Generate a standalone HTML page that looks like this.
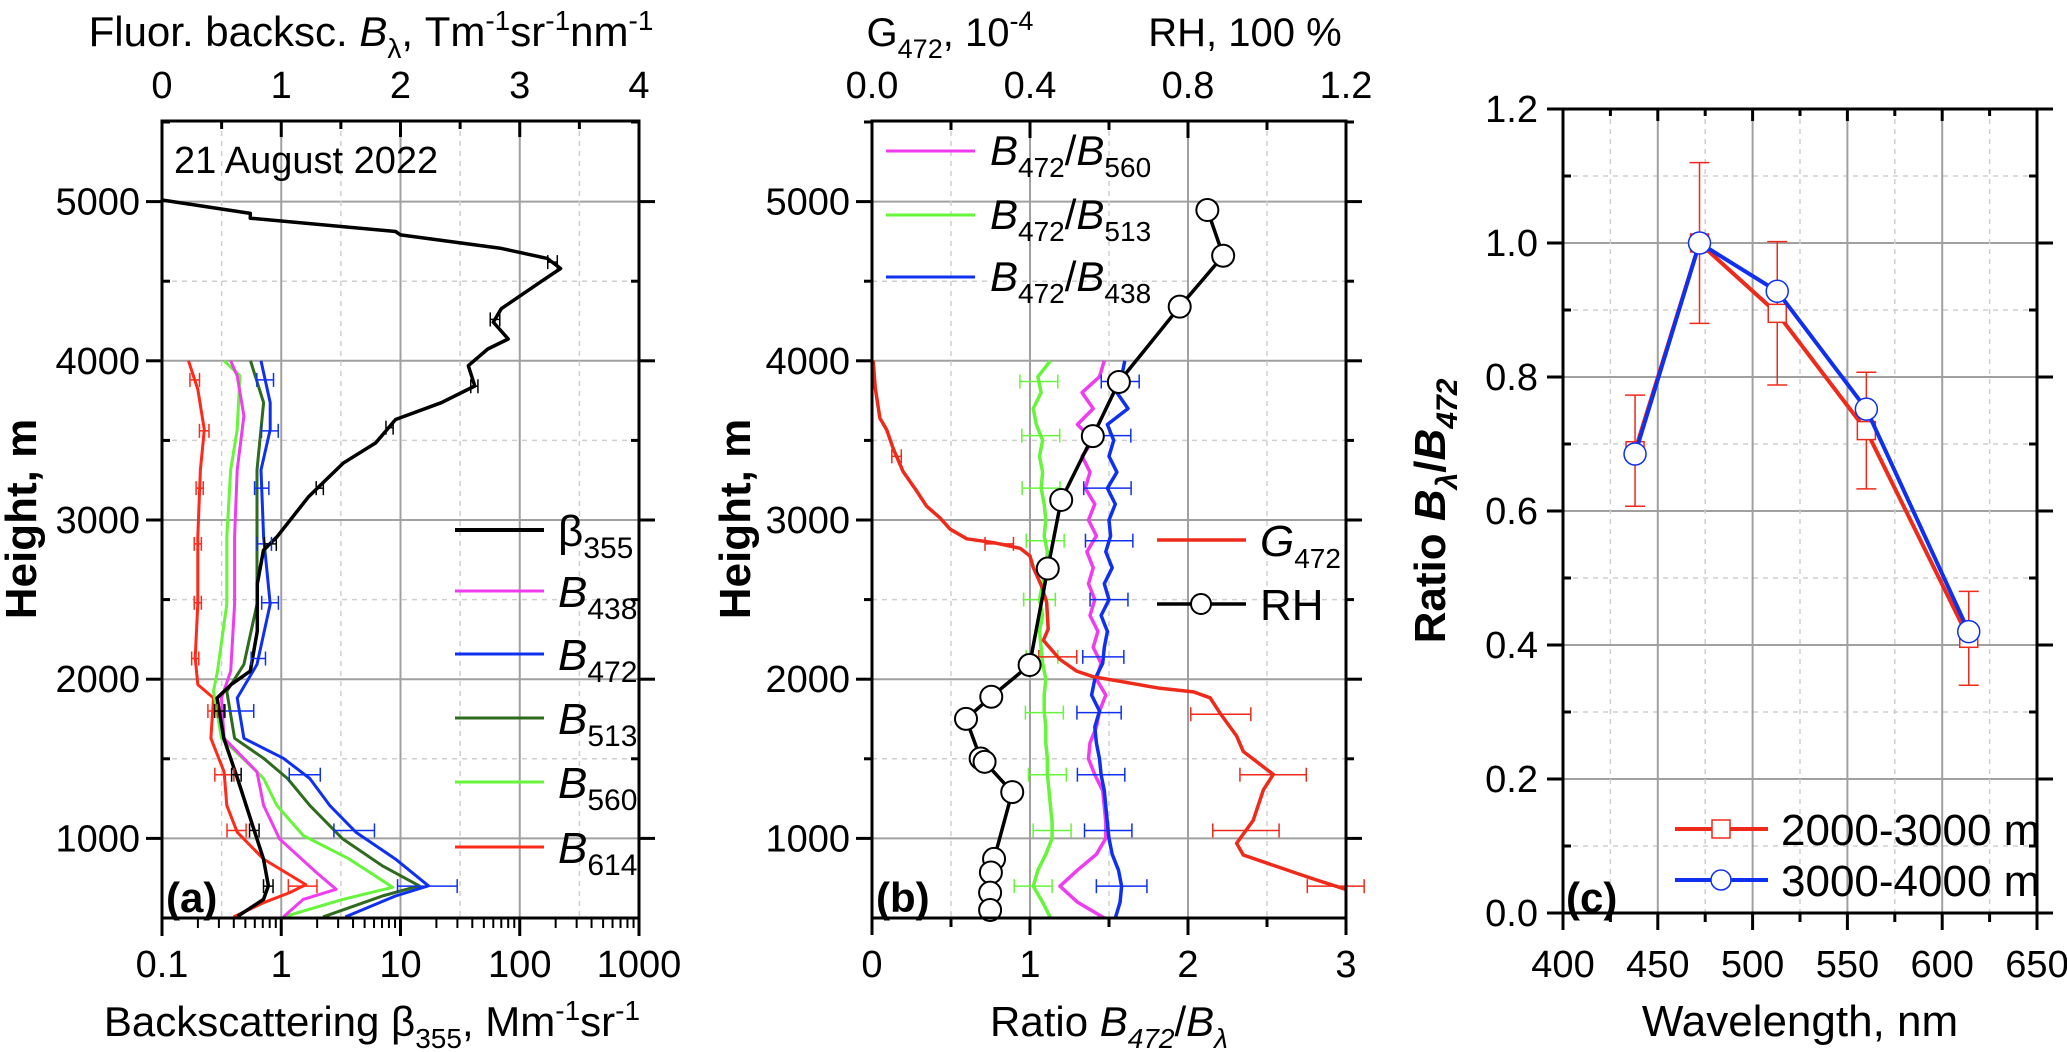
<!DOCTYPE html>
<html><head><meta charset="utf-8"><style>
html,body{margin:0;padding:0;background:#fff;}
svg{display:block;font-family:"Liberation Sans",Arial,sans-serif;}
</style></head><body>
<svg id="fig" width="2067" height="1052" viewBox="0 0 2067 1052" xmlns="http://www.w3.org/2000/svg"></svg>
<script>
// ---------- Panel (a) data ----------
const betaH   = [5010,4926,4896,4812,4791,4706,4643,4580,4496,4327,4243,4137,4074,3969,3842,3737,3631,3484,3357,3147,2894,2810,2599,2303,2051,1966,1882,1629,1376,1039,870,702,617,510];
const betaV   = [0.1,0.55,0.55,9.1,10,70,170,220,150,70,60,80,54,37,42,22,9.1,6.2,3.3,1.7,0.92,0.71,0.63,0.63,0.55,0.38,0.29,0.33,0.43,0.6,0.71,0.78,0.71,0.43];
const b614H = [4000,3821,3568,3315,2894,2472,2135,1966,1882,1629,1418,1207,1039,870,710,660,596,507];
const b614V = [0.222,0.30,0.355,0.322,0.30,0.30,0.278,0.30,0.432,0.41,0.521,0.543,0.631,0.852,1.206,1.073,0.852,0.6];
const b438H = [4000,3906,3653,3315,2894,2472,2051,1882,1629,1418,1207,997,786,680,617,507];
const b438V = [0.576,0.631,0.687,0.631,0.609,0.609,0.576,0.499,0.521,0.797,0.852,0.985,1.295,1.46,1.184,1.018];
const b472H = [4000,3737,3568,3315,2894,2472,2093,1882,1629,1503,1376,1207,1039,870,702,638,507];
const b472V = [0.83,0.907,0.907,0.83,0.852,0.907,0.797,0.631,0.687,1.018,1.239,1.406,1.626,1.958,2.234,1.958,1.538];
const b513H = [4000,3737,3315,2894,2472,2093,1924,1629,1503,1376,1207,997,828,702,638,507];
const b513V = [0.742,0.852,0.797,0.797,0.797,0.687,0.543,0.609,0.852,1.052,1.239,1.515,1.847,2.157,1.847,1.35];
const b560H = [4000,3906,3568,3315,2894,2472,2051,1924,1629,1418,1376,1207,1018,870,693,617,507];
const b560V = [0.521,0.653,0.631,0.576,0.543,0.543,0.465,0.432,0.499,0.797,0.852,0.963,1.184,1.571,1.935,1.515,1.018];
const errAH   = [3880,3560,3200,2850,2480,2130,1800,1400,1050,700];
const errA472 = [0.07,0.07,0.06,0.06,0.07,0.06,0.12,0.13,0.17,0.25];
const errA614 = [0.04,0.04,0.03,0.03,0.03,0.03,0.04,0.08,0.08,0.12];
const errBetaH = [4620,4260,3840,3580,3200,2850,1800,1400,1050,700];
const errBetaV = [0.04,0.04,0.03,0.03,0.03,0.05,0.04,0.04,0.04,0.04];

// ---------- Panel (b) data ----------
const ratioH = [500,600,700,800,900,1000,1100,1200,1300,1400,1500,1600,1700,1800,1900,2000,2100,2200,2300,2400,2500,2600,2700,2800,2900,3000,3100,3200,3300,3400,3500,3600,3700,3800,3900,4000];
const r513 = [1.13,1.08,1.02,1.05,1.10,1.14,1.14,1.13,1.12,1.11,1.11,1.10,1.10,1.09,1.09,1.10,1.08,1.07,1.06,1.08,1.06,1.08,1.10,1.11,1.09,1.10,1.09,1.07,1.08,1.06,1.08,1.04,1.02,1.07,1.05,1.13];
const r560 = [1.47,1.30,1.19,1.30,1.42,1.48,1.48,1.47,1.46,1.41,1.37,1.38,1.42,1.44,1.48,1.42,1.45,1.40,1.43,1.38,1.41,1.37,1.40,1.36,1.42,1.37,1.41,1.35,1.38,1.33,1.40,1.30,1.40,1.33,1.44,1.47];
const r438 = [1.54,1.57,1.58,1.56,1.52,1.50,1.49,1.48,1.47,1.45,1.44,1.42,1.41,1.44,1.39,1.41,1.46,1.47,1.49,1.45,1.50,1.47,1.52,1.48,1.51,1.50,1.54,1.49,1.55,1.50,1.53,1.49,1.62,1.55,1.58,1.60];
const gH = [4000,3832,3640,3568,3447,3303,3183,3087,3014,2942,2882,2858,2822,2774,2702,2653,2581,2485,2316,2244,2124,2051,2016,1943,1920,1883,1787,1643,1546,1402,1305,1113,969,896,824,752,680];
const gV = [0.003,0.008,0.02,0.037,0.054,0.079,0.113,0.138,0.172,0.198,0.24,0.307,0.375,0.4,0.408,0.417,0.43,0.442,0.446,0.434,0.476,0.518,0.56,0.729,0.814,0.856,0.881,0.923,0.94,1.016,0.991,0.965,0.923,0.94,1.024,1.109,1.199];
const rhH = [4947,4660,4340,3867,3527,3126,2695,2089,1890,1751,1502,1481,1291,871,786,659,550];
const rhV = [0.849,0.889,0.779,0.625,0.559,0.479,0.445,0.399,0.302,0.238,0.275,0.285,0.355,0.309,0.301,0.299,0.299];
const errBH = [3870,3530,3200,2870,2500,2140,1790,1400,1050,700];
const errB438 = [0.12,0.12,0.15,0.15,0.12,0.13,0.14,0.15,0.15,0.16];
const errB513 = [0.12,0.12,0.12,0.12,0.10,0.10,0.12,0.12,0.12,0.12];
const errGH = [3400,2850,2140,1780,1400,1050,700];
const errGV = [0.012,0.036,0.048,0.076,0.084,0.084,0.072];

// ---------- Panel (c) data ----------
const wl = [438,472,513,560,614];
const ratio2000 = [0.69,1.0,0.895,0.72,0.41];
const err2000 = [0.083,0.12,0.107,0.087,0.07];
const ratio3000 = [0.685,1.0,0.928,0.752,0.42];

// ---------- helpers ----------
const NS = "http://www.w3.org/2000/svg";
const svg = document.getElementById('fig');
function el(tag, attrs, parent){ const e=document.createElementNS(NS,tag); for(const k in attrs) e.setAttribute(k,attrs[k]); (parent||svg).appendChild(e); return e; }
function grp(parent){ return el('g',{},parent); }
function txt(parent,x,y,size,anchor,weight){ return el('text',{x:x,y:y,'font-size':size,'text-anchor':anchor||'middle','font-weight':weight||'normal',fill:'#000'},parent); }
function span(t,s,opt){ opt=opt||{}; const sp=el('tspan',{},t); if(opt.dy!==undefined) sp.setAttribute('dy',opt.dy); if(opt.size) sp.setAttribute('font-size',opt.size); if(opt.it) sp.setAttribute('font-style','italic'); sp.textContent=s; return sp; }
function interp(H,V,h){ for(let i=0;i<H.length-1;i++){ const a=H[i],b=H[i+1]; if((h-a)*(h-b)<=0){ const t=(h-a)/(b-a||1); return V[i]+t*(V[i+1]-V[i]); } } return V[V.length-1]; }

// scales
const yH = h => 918-(h-500)*0.1592;
const xaLog = v => 162+(Math.log10(v)+1)*119.25;
const xaTop = v => 162+v*119.25;
const xb = r => 872+r*158;
const xbTop = v => 872+v/1.2*474;
const xc = w => 1563+(w-400)/250*474;
const yc = v => 913-v*670;

const GRID='#a0a0a0', MINOR='#cfcfcf';

// ================= PANEL A =================
const pa = grp();  
// grid
for(let h=1000;h<=5000;h+=500){
  const ln=el('line',{x1:162,x2:639,y1:yH(h),y2:yH(h),stroke:h%1000?MINOR:GRID,'stroke-width':h%1000?1.5:2,'stroke-dasharray':h%1000?'5,5':''},pa);
   
}
for(let k=0;k<8;k++){
  const v=0.5*k; if(v===0) continue;
  const major = Number.isInteger(v);
  const ln=el('line',{x1:xaTop(v),x2:xaTop(v),y1:121,y2:918,stroke:major?GRID:MINOR,'stroke-width':major?2:1.5,'stroke-dasharray':major?'':'5,5'},pa);
   
}
// curves
function pathFrom(H,V,fx,fy){ return H.map((h,i)=>(i?'L':'M')+fx(V[i]).toFixed(1)+','+fy(h).toFixed(1)).join(''); }
const aSeries=[[b614H,b614V,'#ff2a1a','curve-b614'],[b560H,b560V,'#66f53a','curve-b560'],[b438H,b438V,'#f03cf0','curve-b438'],[b513H,b513V,'#2e6b1e','curve-b513'],[b472H,b472V,'#1030f0','curve-b472']];
aSeries.forEach(s=>{
  const p=el('path',{d:pathFrom(s[0],s[1],xaTop,yH),fill:'none',stroke:s[2],'stroke-width':3,'stroke-linejoin':'round'},pa);
   
});
const bp=el('path',{d:pathFrom(betaH,betaV,xaLog,yH),fill:'none',stroke:'#000','stroke-width':3.5,'stroke-linejoin':'round'},pa);
 
// error bars
function hbar(parent,cx,half,y,col,name){
  const g=grp(parent);  
  el('line',{x1:cx-half,x2:cx+half,y1:y,y2:y,stroke:col,'stroke-width':1.5},g);
  el('line',{x1:cx-half,x2:cx-half,y1:y-7,y2:y+7,stroke:col,'stroke-width':1.5},g);
  el('line',{x1:cx+half,x2:cx+half,y1:y-7,y2:y+7,stroke:col,'stroke-width':1.5},g);
}
errAH.forEach((h,i)=>{
  hbar(pa,xaTop(interp(b472H,b472V,h)),errA472[i]*119.25,yH(h),'#1030f0','error-bar-b472');
  hbar(pa,xaTop(interp(b614H,b614V,h)),errA614[i]*119.25,yH(h),'#ff2a1a','error-bar-b614');
});
errBetaH.forEach((h,i)=>{
  hbar(pa,xaLog(interp(betaH,betaV,h)),errBetaV[i]*119.25,yH(h),'#000','error-bar-beta355');
});
// frame
const fa=el('rect',{x:162,y:121,width:477,height:797,fill:'none',stroke:'#000','stroke-width':3},pa);
 
// y ticks
for(let h=1000;h<=5500;h+=500){
  const major=h%1000===0;
  el('line',{x1:162-(major?16:0),x2:162+(major?0:8),y1:yH(h),y2:yH(h),stroke:'#000','stroke-width':3},pa);
  el('line',{x1:639-(major?0:8),x2:639+(major?16:0),y1:yH(h),y2:yH(h),stroke:'#000','stroke-width':3},pa);
  if(major && h<=5000){ const t=txt(pa,140,yH(h)+13,38,'end'); t.textContent=h;   }
}
// bottom log ticks
for(let d=-1;d<=3;d++){
  for(let m=1;m<=9;m++){
    const v=m*Math.pow(10,d); if(v>1000) break;
    const x=xaLog(v);
    el('line',{x1:x,x2:x,y1:918,y2:918+(m===1?18:10),stroke:'#000','stroke-width':m===1?3:2},pa);
  }
}
const aBottomLabels=['0.1','1','10','100','1000'];
aBottomLabels.forEach((s,i)=>{ const t=txt(pa,xaLog(Math.pow(10,i-1)),977,38); t.textContent=s;   });
// top ticks
for(let k=0;k<=8;k++){ const v=k*0.5; el('line',{x1:xaTop(v),x2:xaTop(v),y1:121,y2:121+(k%2?8:16),stroke:'#000','stroke-width':3},pa); }
['0','1','2','3','4'].forEach((s,i)=>{ const t=txt(pa,xaTop(i),98,38); t.textContent=s;   });
// titles
let t=txt(pa,371,46,42);  
span(t,'Fluor. backsc. '); span(t,'B',{it:1}); span(t,'λ',{dy:12,size:28}); span(t,', Tm',{dy:-12}); span(t,'-1',{dy:-16,size:28}); span(t,'sr',{dy:16}); span(t,'-1',{dy:-16,size:28}); span(t,'nm',{dy:16}); span(t,'-1',{dy:-16,size:28});
t=txt(pa,372,1036,42);  
span(t,'Backscattering β'); span(t,'355',{dy:12,size:28}); span(t,', Mm',{dy:-12}); span(t,'-1',{dy:-16,size:28}); span(t,'sr',{dy:16}); span(t,'-1',{dy:-16,size:28});
t=txt(pa,0,0,44,'middle','bold'); t.setAttribute('transform','translate(36,519) rotate(-90)'); t.textContent='Height, m';  
t=txt(pa,174,173,38,'start'); t.textContent='21 August 2022';  
t=txt(pa,166,912,42,'start','bold'); t.textContent='(a)';  
// legend a
const legA=[['#000','β','355',false],['#f03cf0','B','438',true],['#1030f0','B','472',true],['#2e6b1e','B','513',true],['#66f53a','B','560',true],['#ff2a1a','B','614',true]];
const legAy=[530,591,654,718,782,847];
legA.forEach((L,i)=>{
  const g=grp(pa);  
  el('line',{x1:455,x2:544,y1:legAy[i],y2:legAy[i],stroke:L[0],'stroke-width':L[0]==='#000'?4:3},g);
  const tt=txt(g,558,legAy[i]+16,44,'start'); span(tt,L[1],{it:L[3]}); span(tt,L[2],{dy:12,size:30});
});

// ================= PANEL B =================
const pb = grp();  
for(let h=1000;h<=5000;h+=500){
  const ln=el('line',{x1:872,x2:1346,y1:yH(h),y2:yH(h),stroke:h%1000?MINOR:GRID,'stroke-width':h%1000?1.5:2,'stroke-dasharray':h%1000?'5,5':''},pb);
   
}
[0.5,1,1.5,2,2.5].forEach(r=>{
  const major=Number.isInteger(r);
  const ln=el('line',{x1:xb(r),x2:xb(r),y1:121,y2:918,stroke:major?GRID:MINOR,'stroke-width':major?2:1.5,'stroke-dasharray':major?'':'5,5'},pb);
   
});
// ratio curves
[[r513,'#66f53a','curve-ratio-513'],[r560,'#f03cf0','curve-ratio-560'],[r438,'#1030f0','curve-ratio-438']].forEach(s=>{
  const p=el('path',{d:pathFrom(ratioH,s[0],xb,yH),fill:'none',stroke:s[1],'stroke-width':3.5,'stroke-linejoin':'round'},pb);
   
});
errBH.forEach((h,i)=>{
  hbar(pb,xb(interp(ratioH,r438,h)),errB438[i]*158,yH(h),'#1030f0','error-bar-ratio-438');
  hbar(pb,xb(interp(ratioH,r513,h)),errB513[i]*158,yH(h),'#66f53a','error-bar-ratio-513');
});
const gp=el('path',{d:pathFrom(gH,gV,xbTop,yH),fill:'none',stroke:'#ee2a1a','stroke-width':3.5,'stroke-linejoin':'round'},pb);
 
errGH.forEach((h,i)=>{ hbar(pb,xbTop(interp(gH,gV,h)),errGV[i]/1.2*474,yH(h),'#ee2a1a','error-bar-g472'); });
const rp=el('path',{d:pathFrom(rhH,rhV,xbTop,yH),fill:'none',stroke:'#000','stroke-width':3.5},pb);
 
rhH.forEach((h,i)=>{
  const c=el('circle',{cx:xbTop(rhV[i]),cy:yH(h),r:11,fill:'#fff',stroke:'#000','stroke-width':2},pb);
   
});
const fb=el('rect',{x:872,y:121,width:474,height:797,fill:'none',stroke:'#000','stroke-width':3},pb);
 
for(let h=1000;h<=5500;h+=500){
  const major=h%1000===0;
  el('line',{x1:872-(major?16:8),x2:872,y1:yH(h),y2:yH(h),stroke:'#000','stroke-width':3},pb);
  el('line',{x1:1346,x2:1346+(major?16:8),y1:yH(h),y2:yH(h),stroke:'#000','stroke-width':3},pb);
  if(major && h<=5000){ const tt=txt(pb,850,yH(h)+13,38,'end'); tt.textContent=h;   }
}
for(let k=0;k<=6;k++){ const r=k*0.5; el('line',{x1:xb(r),x2:xb(r),y1:918,y2:918+(k%2?9:17),stroke:'#000','stroke-width':3},pb); }
['0','1','2','3'].forEach((s,i)=>{ const tt=txt(pb,xb(i),977,38); tt.textContent=s;   });
for(let k=0;k<=6;k++){ const v=k*0.2; el('line',{x1:xbTop(v),x2:xbTop(v),y1:121,y2:121+(k%2?9:17),stroke:'#000','stroke-width':3},pb); }
['0.0','0.4','0.8','1.2'].forEach((s,i)=>{ const tt=txt(pb,xbTop(i*0.4),98,38); tt.textContent=s;   });
t=txt(pb,950,46,40);  
span(t,'G'); span(t,'472',{dy:12,size:27}); span(t,', 10',{dy:-12}); span(t,'-4',{dy:-16,size:27});
t=txt(pb,1245,46,40); t.textContent='RH, 100 %';  
t=txt(pb,1109,1036,42);  
span(t,'Ratio '); span(t,'B',{it:1}); span(t,'472',{dy:12,size:28,it:1}); span(t,'/',{dy:-12}); span(t,'B',{it:1}); span(t,'λ',{dy:12,size:28,it:1});
t=txt(pb,0,0,44,'middle','bold'); t.setAttribute('transform','translate(750,519) rotate(-90)'); t.textContent='Height, m';  
t=txt(pb,876,912,42,'start','bold'); t.textContent='(b)';  
const legB=[['#f03cf0','560',151],['#66f53a','513',215],['#1030f0','438',277]];
legB.forEach(L=>{
  const g=grp(pb);  
  el('line',{x1:886,x2:975,y1:L[2],y2:L[2],stroke:L[0],'stroke-width':3},g);
  const tt=txt(g,990,L[2]+14,42,'start'); span(tt,'B',{it:1}); span(tt,'472',{dy:12,size:28}); span(tt,'/',{dy:-12}); span(tt,'B',{it:1}); span(tt,L[1],{dy:12,size:28});
});
let g=grp(pb);  
el('line',{x1:1157,x2:1246,y1:540,y2:540,stroke:'#ee2a1a','stroke-width':3.5},g);
t=txt(g,1260,556,44,'start'); span(t,'G',{it:1}); span(t,'472',{dy:12,size:28});
g=grp(pb);  
el('line',{x1:1157,x2:1246,y1:604,y2:604,stroke:'#000','stroke-width':3.5},g);
el('circle',{cx:1201,cy:604,r:10,fill:'#fff',stroke:'#000','stroke-width':2},g);
t=txt(g,1260,620,44,'start'); t.textContent='RH';

// ================= PANEL C =================
const pc = grp();  
for(let k=1;k<12;k++){ const v=k*0.1; const major=k%2===0;
  const ln=el('line',{x1:1563,x2:2037,y1:yc(v),y2:yc(v),stroke:major?GRID:MINOR,'stroke-width':major?2:1.5,'stroke-dasharray':major?'':'5,5'},pc);
    }
for(let w=425;w<650;w+=25){ const major=w%50===0;
  const ln=el('line',{x1:xc(w),x2:xc(w),y1:109,y2:913,stroke:major?GRID:MINOR,'stroke-width':major?2:1.5,'stroke-dasharray':major?'':'5,5'},pc);
    }
// error bars (red)
wl.forEach((w,i)=>{
  const eg=grp(pc);  
  const x=xc(w), y1=yc(ratio2000[i]+err2000[i]), y2=yc(ratio2000[i]-err2000[i]);
  el('line',{x1:x,x2:x,y1:y1,y2:y2,stroke:'#ee2a1a','stroke-width':1.5},eg);
  el('line',{x1:x-10,x2:x+10,y1:y1,y2:y1,stroke:'#ee2a1a','stroke-width':1.5},eg);
  el('line',{x1:x-10,x2:x+10,y1:y2,y2:y2,stroke:'#ee2a1a','stroke-width':1.5},eg);
});
const l2=el('polyline',{points:wl.map((w,i)=>xc(w)+','+yc(ratio2000[i])).join(' '),fill:'none',stroke:'#ee2a1a','stroke-width':4},pc);
 
wl.forEach((w,i)=>{ const r=el('rect',{x:xc(w)-9,y:yc(ratio2000[i])-9,width:18,height:18,fill:'#fff',stroke:'#ee2a1a','stroke-width':1.5},pc);
    });
const l3=el('polyline',{points:wl.map((w,i)=>xc(w)+','+yc(ratio3000[i])).join(' '),fill:'none',stroke:'#1030f0','stroke-width':4},pc);
 
wl.forEach((w,i)=>{ const c=el('circle',{cx:xc(w),cy:yc(ratio3000[i]),r:11,fill:'#fff',stroke:'#1030f0','stroke-width':1.5},pc);
    });
const fc=el('rect',{x:1563,y:109,width:474,height:804,fill:'none',stroke:'#000','stroke-width':3},pc);
 
for(let k=0;k<=12;k++){ const v=k*0.1, major=k%2===0;
  el('line',{x1:1563-(major?16:0),x2:1563+(major?0:8),y1:yc(v),y2:yc(v),stroke:'#000','stroke-width':3},pc);
  el('line',{x1:2037-(major?0:8),x2:2037+(major?16:0),y1:yc(v),y2:yc(v),stroke:'#000','stroke-width':3},pc);
  if(major){ const tt=txt(pc,1538,yc(v)+13,38,'end'); tt.textContent=v.toFixed(1);   } }
for(let w=400;w<=650;w+=25){ const major=w%50===0;
  el('line',{x1:xc(w),x2:xc(w),y1:913,y2:913+(major?17:9),stroke:'#000','stroke-width':3},pc);
  el('line',{x1:xc(w),x2:xc(w),y1:109,y2:109+(major?12:7),stroke:'#000','stroke-width':3},pc);
  if(major){ const tt=txt(pc,xc(w),977,38); tt.textContent=w;   } }
t=txt(pc,1800,1036,44); t.textContent='Wavelength, nm';  
t=txt(pc,0,0,44,'middle','bold'); t.setAttribute('transform','translate(1445,511) rotate(-90)');  
span(t,'Ratio '); span(t,'B',{it:1}); span(t,'λ',{dy:12,size:30,it:1}); span(t,'/',{dy:-12}); span(t,'B',{it:1}); span(t,'472',{dy:12,size:30,it:1});
t=txt(pc,1566,912,42,'start','bold'); t.textContent='(c)';  
g=grp(pc);  
el('line',{x1:1675,x2:1768,y1:829,y2:829,stroke:'#ee2a1a','stroke-width':4},g);
el('rect',{x:1712,y:820,width:18,height:18,fill:'#fff',stroke:'#ee2a1a','stroke-width':1.5},g);
t=txt(g,1781,845,44,'start'); t.textContent='2000-3000 m';
g=grp(pc);  
el('line',{x1:1675,x2:1768,y1:880,y2:880,stroke:'#1030f0','stroke-width':4},g);
el('circle',{cx:1721,cy:880,r:10,fill:'#fff',stroke:'#1030f0','stroke-width':1.5},g);
t=txt(g,1781,896,44,'start'); t.textContent='3000-4000 m';
</script>
</body></html>
